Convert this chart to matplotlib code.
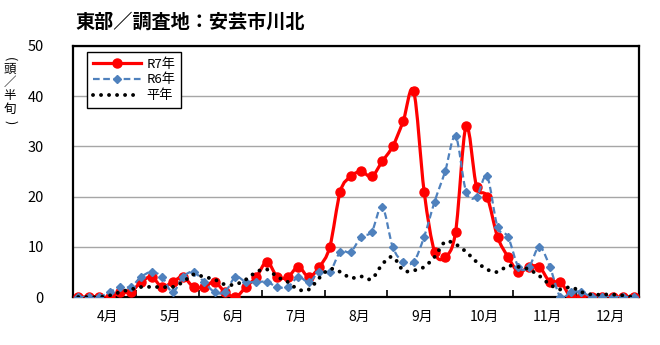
import numpy as np
import matplotlib
matplotlib.use("Agg")
import matplotlib.pyplot as plt
from matplotlib.path import Path
from matplotlib.patches import PathPatch
from matplotlib.lines import Line2D

plt.rcParams['font.family'] = ['Noto Sans CJK JP', 'DejaVu Sans']

# half-month (半旬) counts, Apr..Dec, 6 per month
months = ["4月", "5月", "6月", "7月", "8月", "9月", "10月", "11月", "12月"]
r7 = [0, 0, 0, 0, 1, 1, 3, 4, 2, 3, 4, 2,
      2, 3, 1, 0, 2, 4, 7, 4, 4, 6, 4, 6,
      10, 21, 24, 25, 24, 27, 30, 35, 41, 21, 9, 8,
      13, 34, 22, 20, 12, 8, 5, 6, 6, 3, 3, 0,
      0, 0, 0, 0, 0, 0]
r6 = [0, 0, 0, 1, 2, 2, 4, 5, 4, 1, 4, 5,
      3, 1, 1, 4, 3, 3, 3, 2, 2, 4, 3, 5,
      5, 9, 9, 12, 13, 18, 10, 7, 7, 12, 19, 25,
      32, 21, 20, 24, 14, 12, 6, 6, 10, 6, 0, 1,
      1, 0, 0, 0, 0, 0]
normal = [0, 0, 0, 0.3, 1, 1.5, 2, 2, 2, 2, 3, 4.5,
          4, 3.5, 2.5, 2.5, 3.5, 5, 5.5, 4, 3, 1.5, 1.5, 3.8,
          5.6, 5, 3.8, 4.1, 3.6, 6.5, 8, 5.3, 5.3, 6, 8, 11,
          10.5, 9, 7, 5.5, 5, 6.2, 6, 5.5, 4.2, 2.5, 1.5, 2,
          1, 0.5, 0.5, 0.5, 0.3, 0]


def smooth_path(x, y):
    # Excel-like smoothed line: cubic Bezier through each point
    x = np.asarray(x, float)
    y = np.asarray(y, float)
    n = len(x)
    verts = [(x[0], y[0])]
    codes = [Path.MOVETO]
    for i in range(n - 1):
        i0 = max(i - 1, 0)
        i3 = min(i + 2, n - 1)
        c1 = (x[i] + (x[i + 1] - x[i0]) / 6, y[i] + (y[i + 1] - y[i0]) / 6)
        c2 = (x[i + 1] - (x[i3] - x[i]) / 6, y[i + 1] - (y[i3] - y[i]) / 6)
        verts += [c1, c2, (x[i + 1], y[i + 1])]
        codes += [Path.CURVE4] * 3
    return Path(verts, codes)


x = np.arange(len(r7))

fig = plt.figure(figsize=(6.6, 3.45), dpi=100)
ax = fig.add_axes([0.1106, 0.139, 0.8576, 0.728])

ax.set_xlim(-0.5, 53.5)
ax.set_ylim(0, 50)
ax.set_yticks(range(0, 51, 10))
ax.yaxis.grid(True, color='#A6A6A6', linewidth=1.0)
ax.set_axisbelow(True)

red = '#FF0000'
blue = '#4F81BD'

ax.add_patch(PathPatch(smooth_path(x, r7), fill=False, edgecolor=red,
                       linewidth=2.3, zorder=3, capstyle='round', joinstyle='round'))
ax.plot(x, r7, linestyle='none', marker='o', markersize=6.5, color=red, zorder=3.5)

ax.add_patch(PathPatch(smooth_path(x, r6), fill=False, edgecolor=blue,
                       linewidth=1.6, linestyle=(0, (3, 1.6)), zorder=4))
ax.plot(x, r6, linestyle='none', marker='D', markersize=4, color=blue, zorder=4.5)

ax.add_patch(PathPatch(smooth_path(x, normal), fill=False, edgecolor='black',
                       linewidth=2.8, linestyle=(0, (0.01, 2.05)), capstyle='round', zorder=5))

# month ticks at boundaries, labels centered
ax.set_xticks(np.arange(-0.5, 54, 6))
ax.set_xticklabels([])
ax.set_xticks(np.arange(2.8, 54, 6), minor=True)
ax.set_xticklabels(months, minor=True, fontsize=10)
ax.tick_params(axis='x', which='major', direction='in', length=5, width=1.2, color='black')
ax.tick_params(axis='x', which='minor', length=0, pad=9)
ax.tick_params(axis='y', length=0, labelsize=10.5, pad=21)

for s in ax.spines.values():
    s.set_linewidth(1.6)
    s.set_color('black')

handles = [
    Line2D([], [], color=red, linewidth=2.3, marker='o', markersize=6.5),
    Line2D([], [], color=blue, linewidth=1.6, linestyle=(0, (3, 1.6)), marker='D', markersize=4),
    Line2D([], [], color='black', linewidth=2.8, linestyle=(0, (0.01, 2.05)), dash_capstyle='round'),
]
leg = ax.legend(handles, ["R7年", "R6年", "平年"], loc='upper left',
                bbox_to_anchor=(0.025, 0.976), borderaxespad=0, fontsize=9.5,
                fancybox=False, framealpha=1, edgecolor='black', handlelength=3.6,
                borderpad=0.45, labelspacing=0.2, handletextpad=0.45)
leg.get_frame().set_linewidth(1.0)

fig.text(0.115, 0.936, "東部／調査地：安芸市川北", fontsize=13.8, fontweight='bold',
         ha='left', va='center')

# vertical y-axis label, one character per line
ylab_chars = ["(", "頭", "／", "半", "旬", ")"]
ylab_y = [59, 69, 82, 96, 109, 122]
for ch, yp in zip(ylab_chars, ylab_y):
    rot = -90 if ch in "()" else 0
    fig.text(10 / 660, 1 - yp / 345, ch, fontsize=9, ha='center', va='center',
             rotation=rot)

fig.savefig("out.png", dpi=100)
